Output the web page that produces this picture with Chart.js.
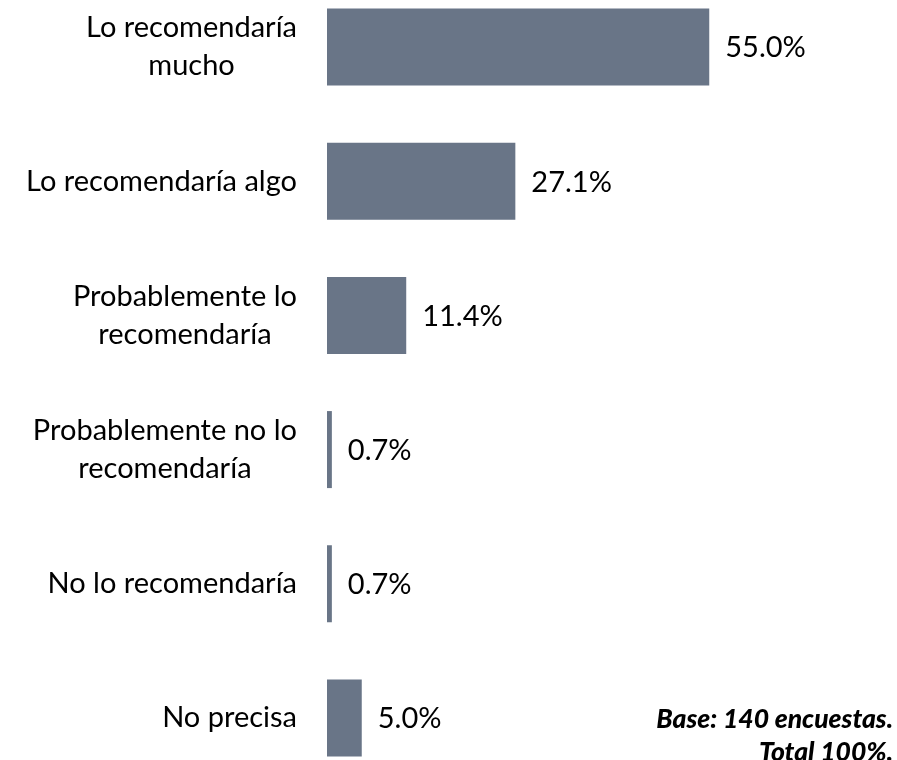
<!DOCTYPE html>
<html>
<head>
<meta charset="utf-8">
<script src="https://cdn.jsdelivr.net/npm/chart.js@4.4.1/dist/chart.umd.min.js"></script>
<style>
  html, body { margin: 0; padding: 0; background: #fff; width: 897px; height: 760px; overflow: hidden; }
  #wrap { position: relative; width: 897px; height: 760px; overflow: hidden; }
  #grafico { position: absolute; left: 0; top: -20px; }
  #nota {
    position: absolute; right: 4px; top: 702px;
    font-family: Lato, sans-serif; font-weight: 900; font-style: italic;
    font-size: 26.5px; line-height: 33px; text-align: right; color: #000;
  }
</style>
</head>
<body>
<div id="wrap">
  <canvas id="grafico" width="897" height="805"></canvas>
  <div id="nota">Base: 140 encuestas.<br>Total 100%.</div>
</div>
<script>
const categorias = [
    ["Lo recomendaría", "mucho"],
    ["Lo recomendaría algo"],
    ["Probablemente lo", "recomendaría"],
    ["Probablemente no lo", "recomendaría"],
    ["No lo recomendaría"],
    ["No precisa"]
];
const porcentajes = [55.0, 27.1, 11.4, 0.7, 0.7, 5.0];
const etiquetas = ["55.0%", "27.1%", "11.4%", "0.7%", "0.7%", "5.0%"];

const colorBarra = "#697587";
const fuente = "Lato, 'Open Sans', sans-serif";
const tamFuente = 29;

// dibuja las categorias (centradas por bloque, alineadas a la derecha) y los porcentajes
const etiquetasPlugin = {
    id: 'etiquetas',
    afterDatasetsDraw(chart) {
        const ctx = chart.ctx;
        const yScale = chart.scales.y;
        const meta = chart.getDatasetMeta(0);
        const lineH = 38;
        ctx.save();
        ctx.font = `${tamFuente}px ${fuente}`;
        ctx.fillStyle = "#000";
        ctx.textBaseline = "middle";
        categorias.forEach((lineas, i) => {
            const yc = yScale.getPixelForTick(i);
            const anchos = lineas.map(l => ctx.measureText(l).width);
            const maxAncho = Math.max(...anchos);
            const derecha = chart.chartArea.left - 30;
            const centro = derecha - maxAncho / 2;
            ctx.textAlign = "center";
            lineas.forEach((l, j) => {
                const y = yc + (j - (lineas.length - 1) / 2) * lineH;
                ctx.fillText(l, centro, y);
            });
        });
        ctx.textAlign = "left";
        meta.data.forEach((bar, i) => {
            ctx.fillText(etiquetas[i], bar.x + 16, bar.y + 1);
        });
        ctx.restore();
    }
};

new Chart(document.getElementById('grafico'), {
    type: 'bar',
    data: {
        labels: categorias,
        datasets: [{
            data: porcentajes,
            backgroundColor: colorBarra,
            borderWidth: 0,
            barPercentage: 0.574,
            categoryPercentage: 1
        }]
    },
    options: {
        indexAxis: 'y',
        responsive: false,
        animation: false,
        devicePixelRatio: 1,
        layout: { padding: { left: 327, right: 14, top: 0, bottom: 0 } },
        plugins: { legend: { display: false }, tooltip: { enabled: false } },
        scales: {
            x: { display: false, min: 0, max: 80 },
            y: { display: false }
        }
    },
    plugins: [etiquetasPlugin]
});
</script>
</body>
</html>
